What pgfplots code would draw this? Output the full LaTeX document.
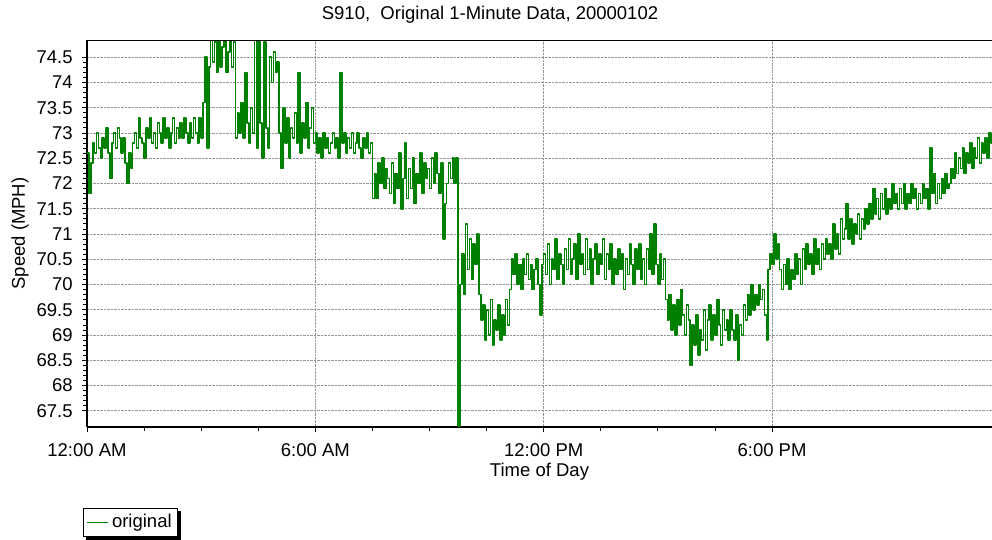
\documentclass[border=0pt]{standalone}
\usepackage{fontspec}
\setmainfont{Liberation Sans}
\usepackage{pgfplots}
\pgfplotsset{compat=1.18}
\usetikzlibrary{shadows}
\definecolor{lineg}{RGB}{0,128,0}
\definecolor{gridg}{RGB}{150,150,150}
\makeatletter
\tikzset{nopreaction/.code={\let\tikz@preactions\pgfutil@empty}}
\makeatother
\begin{document}
\fontsize{18.5}{22}\selectfont
\begin{tikzpicture}
\useasboundingbox (0,0) rectangle (992pt,539pt);
\node at (490pt,524pt) {S910,\ \ Original 1-Minute Data, 20000102};
\begin{axis}[
  at={(87pt,112pt)}, anchor=south west,
  scale only axis, width=905pt, height=387pt,
  xmin=0, xmax=23.78, ymin=67.18, ymax=74.84,
  axis lines=left, axis line style={-, line width=2pt, black},
  xtick={0,6,12,18},
  xticklabels={12:00 AM,6:00 AM,12:00 PM,6:00 PM},
  minor x tick num=3,
  ytick={67.5,68,68.5,69,69.5,70,70.5,71,71.5,72,72.5,73,73.5,74,74.5},
  minor y tick num=4,
  xmajorgrids=true, ymajorgrids=true,
  major grid style={densely dotted, gridg, line width=0.9pt},
  tick align=outside, major tick length=5pt, minor tick length=4pt,
  tick style={black, line width=0.9pt},
  /pgf/number format/assume math mode=true,
  xticklabel style={yshift=-5pt},
  yticklabel style={xshift=-3pt},
  xlabel={Time of Day}, ylabel={Speed (MPH)},
  every axis x label/.style={at={(axis description cs:0.5,-0.116)},anchor=center},
  every axis y label/.style={at={(axis description cs:-0.074,0.5)},rotate=90,anchor=center},
  legend style={at={(axis description cs:-0.0044,-0.2093)}, anchor=north west,
    draw=black, line width=0.8pt, fill=white, inner xsep=3pt, inner ysep=3pt,
    nodes={inner sep=3pt, nopreaction},
    drop shadow={shadow xshift=3pt, shadow yshift=-3pt, fill=black, opacity=1}},
  legend image code/.code={\path[nopreaction] (0pt,0pt) -- (21pt,0pt);\draw[nopreaction, #1, line width=1.3pt] (4pt,0pt) -- (18pt,0pt);},
  clip=true,
]
\addplot[const plot, lineg, line width=1.6pt, line join=round] coordinates {
(0,72.6)(0.05,71.8)(0.1,72.4)(0.15,72.8)(0.2,72.6)(0.25,73.0)(0.3,72.7)(0.35,72.5)(0.4,72.9)(0.45,72.7)
(0.5,73.1)(0.55,72.6)(0.6,72.1)(0.65,72.8)(0.7,73.0)(0.75,72.7)(0.8,73.1)(0.85,72.9)(0.9,72.6)(0.95,72.9)
(1.0,72.4)(1.05,72.0)(1.1,72.6)(1.15,72.3)(1.2,72.8)(1.25,73.0)(1.3,72.7)(1.35,73.3)(1.4,72.9)(1.45,72.8)
(1.5,72.5)(1.55,73.1)(1.6,72.9)(1.65,73.3)(1.7,72.8)(1.75,73.0)(1.8,72.7)(1.85,73.2)(1.9,73.0)(1.95,72.8)
(2.0,73.3)(2.05,72.9)(2.1,73.1)(2.15,72.7)(2.2,73.0)(2.25,73.3)(2.3,72.8)(2.35,73.1)(2.4,72.9)(2.45,73.2)
(2.5,72.9)(2.55,73.3)(2.6,73.0)(2.65,72.8)(2.7,73.2)(2.75,72.9)(2.8,73.3)(2.85,73.0)(2.9,72.8)(2.95,73.3)
(3.0,72.9)(3.05,73.6)(3.1,74.5)(3.15,72.7)(3.2,74.3)(3.25,74.9)(3.3,74.4)(3.35,74.8)(3.4,74.2)(3.45,74.9)
(3.5,74.3)(3.55,74.7)(3.6,74.9)(3.65,74.2)(3.7,74.6)(3.75,74.9)(3.8,74.3)(3.85,74.8)(3.9,72.9)(3.95,73.4)
(4.0,73.0)(4.05,73.6)(4.1,72.9)(4.15,74.2)(4.2,73.2)(4.25,72.8)(4.3,73.5)(4.35,73.0)(4.4,74.9)(4.45,72.7)
(4.5,74.9)(4.55,73.2)(4.6,72.5)(4.65,74.8)(4.7,73.1)(4.75,72.7)(4.8,74.5)(4.85,74.0)(4.9,74.6)(4.95,74.2)
(5.0,74.4)(5.05,73.0)(5.1,72.3)(5.15,73.5)(5.2,72.8)(5.25,73.3)(5.3,72.5)(5.35,73.1)(5.4,72.9)(5.45,73.4)
(5.5,72.8)(5.55,74.2)(5.6,72.6)(5.65,73.2)(5.7,72.9)(5.75,73.6)(5.8,72.7)(5.85,73.1)(5.9,73.5)(5.95,72.8)
(6.0,73.0)(6.05,72.6)(6.1,72.9)(6.15,72.5)(6.2,73.0)(6.25,72.7)(6.3,72.9)(6.35,72.6)(6.4,72.8)(6.45,73.0)
(6.5,72.7)(6.55,72.9)(6.6,72.5)(6.65,74.2)(6.7,72.8)(6.75,73.0)(6.8,72.6)(6.85,72.9)(6.9,72.7)(6.95,73.0)
(7.0,72.6)(7.05,72.8)(7.1,73.0)(7.15,72.7)(7.2,72.5)(7.25,72.9)(7.3,72.7)(7.35,73.0)(7.4,72.6)(7.45,72.8)
(7.5,71.7)(7.55,72.2)(7.6,71.7)(7.65,72.4)(7.7,72.0)(7.75,72.5)(7.8,71.9)(7.85,72.3)(7.9,72.1)(7.95,71.8)
(8.0,72.4)(8.05,71.6)(8.1,72.2)(8.15,71.9)(8.2,72.6)(8.25,71.5)(8.3,72.1)(8.35,72.8)(8.4,71.7)(8.45,72.3)
(8.5,71.9)(8.55,72.5)(8.6,71.6)(8.65,72.2)(8.7,72.0)(8.75,72.6)(8.8,71.8)(8.85,72.4)(8.9,72.1)(8.95,72.3)
(9.0,71.9)(9.05,72.5)(9.1,72.0)(9.15,72.6)(9.2,72.2)(9.25,71.8)(9.3,72.4)(9.35,70.9)(9.4,71.6)(9.45,72.0)
(9.5,72.4)(9.55,72.1)(9.6,72.5)(9.65,72.0)(9.7,72.5)(9.75,67.2)(9.8,70.0)(9.85,70.6)(9.9,69.8)(9.95,71.2)
(10.0,70.3)(10.05,70.9)(10.1,70.1)(10.15,70.8)(10.2,70.4)(10.25,71.0)(10.3,69.8)(10.35,69.3)(10.4,69.6)(10.45,68.9)
(10.5,69.5)(10.55,69.0)(10.6,69.7)(10.65,68.8)(10.7,69.3)(10.75,69.1)(10.8,69.6)(10.85,68.9)(10.9,69.4)(10.95,69.0)
(11.0,69.7)(11.05,69.2)(11.1,69.9)(11.15,70.5)(11.2,70.2)(11.25,70.6)(11.3,70.0)(11.35,70.4)(11.4,69.9)(11.45,70.5)
(11.5,70.2)(11.55,70.6)(11.6,70.1)(11.65,70.4)(11.7,69.9)(11.75,70.3)(11.8,70.5)(11.85,70.0)(11.9,69.4)(11.95,70.4)
(12.0,70.6)(12.05,70.2)(12.1,70.8)(12.15,70.0)(12.2,70.5)(12.25,70.3)(12.3,70.9)(12.35,70.1)(12.4,70.6)(12.45,70.4)
(12.5,70.0)(12.55,70.7)(12.6,70.3)(12.65,70.9)(12.7,70.2)(12.75,70.5)(12.8,70.8)(12.85,70.1)(12.9,71.0)(12.95,70.4)
(13.0,70.6)(13.05,70.2)(13.1,70.9)(13.15,70.3)(13.2,70.7)(13.25,70.0)(13.3,70.5)(13.35,70.8)(13.4,70.2)(13.45,70.6)
(13.5,70.4)(13.55,70.9)(13.6,70.1)(13.65,70.6)(13.7,70.3)(13.75,70.8)(13.8,70.0)(13.85,70.5)(13.9,70.2)(13.95,70.7)
(14.0,70.3)(14.05,70.6)(14.1,69.9)(14.15,70.5)(14.2,70.2)(14.25,70.8)(14.3,70.4)(14.35,70.0)(14.4,70.7)(14.45,70.3)
(14.5,70.8)(14.55,70.1)(14.6,70.5)(14.65,70.0)(14.7,70.7)(14.75,70.3)(14.8,71.0)(14.85,70.2)(14.9,71.2)(14.95,70.4)
(15.0,70.0)(15.05,70.6)(15.1,70.1)(15.15,70.5)(15.2,69.7)(15.25,69.3)(15.3,69.8)(15.35,69.1)(15.4,69.6)(15.45,69.0)
(15.5,69.7)(15.55,69.2)(15.6,69.9)(15.65,69.4)(15.7,69.0)(15.75,69.6)(15.8,69.3)(15.85,68.4)(15.9,69.2)(15.95,68.8)
(16.0,69.4)(16.05,68.6)(16.1,69.1)(16.15,68.9)(16.2,69.5)(16.25,68.7)(16.3,69.3)(16.35,69.6)(16.4,68.9)(16.45,69.4)
(16.5,69.0)(16.55,69.7)(16.6,69.2)(16.65,68.8)(16.7,69.5)(16.75,69.1)(16.8,69.3)(16.85,68.9)(16.9,69.5)(16.95,69.1)
(17.0,68.9)(17.05,69.4)(17.1,68.5)(17.15,69.2)(17.2,69.0)(17.25,69.6)(17.3,69.3)(17.35,69.8)(17.4,69.4)(17.45,70.0)
(17.5,69.5)(17.55,69.8)(17.6,69.6)(17.65,70.0)(17.7,69.7)(17.75,69.9)(17.8,69.4)(17.85,68.9)(17.9,70.3)(17.95,70.6)
(18.0,70.4)(18.05,71.0)(18.1,70.5)(18.15,70.8)(18.2,70.3)(18.25,69.9)(18.3,70.4)(18.35,70.0)(18.4,70.5)(18.45,69.9)
(18.5,70.3)(18.55,70.1)(18.6,70.6)(18.65,70.2)(18.7,70.5)(18.75,70.0)(18.8,70.7)(18.85,70.3)(18.9,70.8)(18.95,70.4)
(19.0,70.6)(19.05,70.2)(19.1,70.9)(19.15,70.4)(19.2,70.7)(19.25,70.3)(19.3,70.8)(19.35,70.5)(19.4,70.9)(19.45,70.6)
(19.5,70.8)(19.55,70.5)(19.6,71.2)(19.65,70.7)(19.7,71.0)(19.75,70.6)(19.8,71.3)(19.85,70.9)(19.9,71.1)(19.95,71.6)
(20.0,70.9)(20.05,71.3)(20.1,70.8)(20.15,71.2)(20.2,71.0)(20.25,71.4)(20.3,70.9)(20.35,71.3)(20.4,71.1)(20.45,71.5)
(20.5,71.2)(20.55,71.6)(20.6,71.3)(20.65,71.9)(20.7,71.4)(20.75,71.7)(20.8,71.3)(20.85,71.8)(20.9,71.5)(20.95,71.9)
(21.0,71.4)(21.05,71.7)(21.1,71.5)(21.15,72.0)(21.2,71.6)(21.25,71.8)(21.3,71.5)(21.35,71.9)(21.4,71.6)(21.45,72.0)
(21.5,71.5)(21.55,71.8)(21.6,71.6)(21.65,72.0)(21.7,71.7)(21.75,71.9)(21.8,71.5)(21.85,71.8)(21.9,71.6)(21.95,72.0)
(22.0,71.7)(22.05,71.9)(22.1,71.5)(22.15,72.7)(22.2,71.8)(22.25,72.2)(22.3,71.6)(22.35,72.0)(22.4,71.7)(22.45,72.1)
(22.5,71.8)(22.55,72.2)(22.6,71.9)(22.65,72.0)(22.7,72.3)(22.75,72.1)(22.8,72.6)(22.85,72.2)(22.9,72.5)(22.95,72.3)
(23.0,72.7)(23.05,72.2)(23.1,72.6)(23.15,72.4)(23.2,72.8)(23.25,72.3)(23.3,72.7)(23.35,72.5)(23.4,72.9)(23.45,72.4)
(23.5,72.8)(23.55,72.6)(23.6,72.9)(23.65,72.5)(23.7,73.0)(23.75,72.8)(23.8,72.9)
};
\addlegendentry{original}
\draw[black, line width=1.5pt] (rel axis cs:0,1) -- (rel axis cs:1,1);
\end{axis}
\end{tikzpicture}
\end{document}
